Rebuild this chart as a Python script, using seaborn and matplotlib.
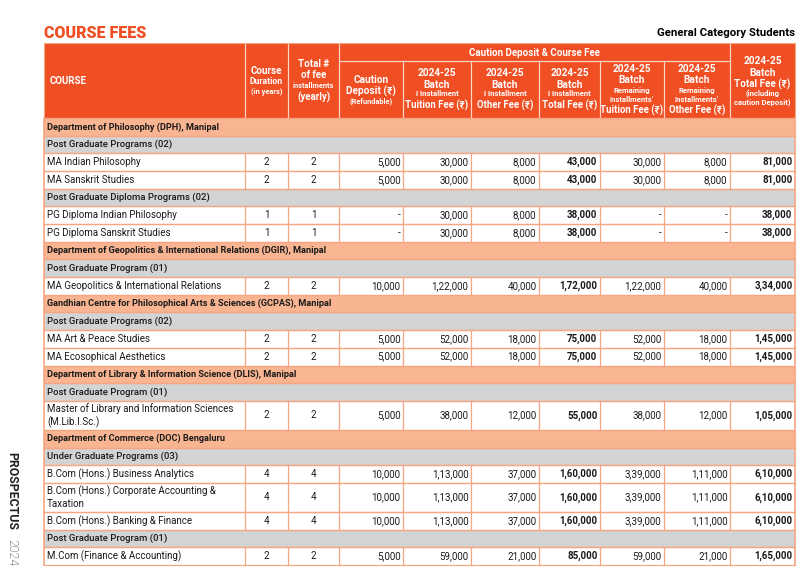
import matplotlib
matplotlib.use("Agg")
import matplotlib.pyplot as plt
from matplotlib.patches import Rectangle
import seaborn as sns

# table content
row_kind = ["dept", "group", "course", "course", "group", "course", "course",
            "dept", "group", "course",
            "dept", "group", "course", "course",
            "dept", "group", "course",
            "dept", "group", "course", "course", "course", "group", "course"]
row_label = [
    "Department of Philosophy (DPH), Manipal",
    "Post Graduate Programs (02)",
    "MA Indian Philosophy",
    "MA Sanskrit Studies",
    "Post Graduate Diploma Programs (02)",
    "PG Diploma Indian Philosophy",
    "PG Diploma Sanskrit Studies",
    "Department of Geopolitics & International Relations (DGIR), Manipal",
    "Post Graduate Program (01)",
    "MA Geopolitics & International Relations",
    "Gandhian Centre for Philosophical Arts & Sciences (GCPAS), Manipal",
    "Post Graduate Programs (02)",
    "MA Art & Peace Studies",
    "MA Ecosophical Aesthetics",
    "Department of Library & Information Science (DLIS), Manipal",
    "Post Graduate Program (01)",
    "Master of Library and Information Sciences\n(M.Lib.I.Sc.)",
    "Department of Commerce (DOC) Bengaluru",
    "Under Graduate Programs (03)",
    "B.Com (Hons.) Business Analytics",
    "B.Com (Hons.) Corporate Accounting &\nTaxation",
    "B.Com (Hons.) Banking & Finance",
    "Post Graduate Program (01)",
    "M.Com (Finance & Accounting)",
]

# one entry per course row, in order
duration = [2, 2, 1, 1, 2, 2, 2, 2, 4, 4, 4, 2]
installments = [2, 2, 1, 1, 2, 2, 2, 2, 4, 4, 4, 2]
caution = [5000, 5000, None, None, 10000, 5000, 5000, 5000, 10000, 10000, 10000, 5000]
tuition_1 = [30000, 30000, 30000, 30000, 122000, 52000, 52000, 38000, 113000, 113000, 113000, 59000]
other_1 = [8000, 8000, 8000, 8000, 40000, 18000, 18000, 12000, 37000, 37000, 37000, 21000]
total_1 = [43000, 43000, 38000, 38000, 172000, 75000, 75000, 55000, 160000, 160000, 160000, 85000]
tuition_rest = [30000, 30000, None, None, 122000, 52000, 52000, 38000, 339000, 339000, 339000, 59000]
other_rest = [8000, 8000, None, None, 40000, 18000, 18000, 12000, 111000, 111000, 111000, 21000]
total_fee = [81000, 81000, 38000, 38000, 334000, 145000, 145000, 105000, 610000, 610000, 610000, 165000]

ORANGE = "#F04E23"
SALMON = "#F9B592"
GREY = "#D1D3D4"
GRID = "#F6A683"


def inr(v):
    # Indian digit grouping: 1,22,000
    if v is None:
        return "-"
    s = str(v)
    if len(s) <= 3:
        return s
    head, tail = s[:-3], s[-3:]
    parts = []
    while len(head) > 2:
        parts.insert(0, head[-2:])
        head = head[:-2]
    if head:
        parts.insert(0, head)
    return ",".join(parts) + "," + tail


sns.set_theme(style="white")
plt.rcParams["font.family"] = ["Roboto", "DejaVu Sans"]

fig = plt.figure(figsize=(8.04, 5.82), dpi=100)
ax = fig.add_axes([0, 0, 1, 1])
ax.set_xlim(0, 804)
ax.set_ylim(582, 0)
ax.axis("off")

edges = [44, 245, 288, 339.5, 403, 471, 539, 600, 664, 730, 795]
left, right = edges[0], edges[-1]
head_top, head_mid, head_bot = 43, 61, 118

# titles
ax.text(left, 33, "COURSE FEES", color=ORANGE, fontsize=11.5, fontweight="heavy",
        ha="left", va="center")
ax.text(right, 33, "General Category Students", color="black", fontsize=8.2,
        fontweight="bold", ha="right", va="center")
ax.text(12, 452, "PROSPECTUS", rotation=-90, fontsize=8.8, fontweight="bold",
        ha="center", va="top", color="#222222")
ax.text(12, 539, "2024", rotation=-90, fontsize=8.8, fontweight="light",
        ha="center", va="top", color="#222222")

# header block
ax.add_patch(Rectangle((left, head_top), right - left, head_bot - head_top,
                       facecolor=ORANGE, edgecolor="none"))
hl = "#FAD3C2"
for i, x in enumerate(edges[1:-1], start=1):
    y0 = head_top if i in (1, 2, 3, 9) else head_mid
    ax.plot([x, x], [y0, head_bot], color=hl, lw=0.9)
ax.plot([edges[3], edges[9]], [head_mid, head_mid], color=hl, lw=0.9)

ax.text(50, 81, "COURSE", color="white", fontsize=7, fontweight="bold", ha="left", va="center")
ax.text((edges[3] + edges[9]) / 2, 52.5, "Caution Deposit & Course Fee", color="white",
        fontsize=7, fontweight="bold", ha="center", va="center")

header_cells = [
    (1, [("Course", 7, 71), ("Duration", 6.2, 81.5), ("(in years)", 5.3, 91.5)]),
    (2, [("Total #", 7, 64), ("of fee", 7, 75.5), ("installments", 5.3, 86), ("(yearly)", 7, 97.5)]),
    (3, [("Caution", 7.3, 80), ("Deposit (₹)", 7.3, 91), ("(Refundable)", 5.3, 101.5)]),
    (4, [("2024-25", 7.3, 73), ("Batch", 7.3, 84.5), ("I Installment", 5.5, 94), ("Tuition Fee (₹)", 6.9, 105)]),
    (5, [("2024-25", 7.3, 73), ("Batch", 7.3, 84.5), ("I Installment", 5.5, 94), ("Other Fee (₹)", 6.9, 105)]),
    (6, [("2024-25", 7.3, 73), ("Batch", 7.3, 84.5), ("I Installment", 5.5, 94), ("Total Fee (₹)", 6.9, 105)]),
    (7, [("2024-25", 7.3, 68.5), ("Batch", 7.3, 80), ("Remaining", 5.5, 90), ("Installments'", 5.5, 99.5), ("Tuition Fee (₹)", 6.9, 110)]),
    (8, [("2024-25", 7.3, 68.5), ("Batch", 7.3, 80), ("Remaining", 5.5, 90), ("Installments'", 5.5, 99.5), ("Other Fee (₹)", 6.9, 110)]),
    (9, [("2024-25", 7.3, 61), ("Batch", 7.3, 72.5), ("Total Fee (₹)", 7.1, 84), ("(including", 5.5, 93.5), ("caution Deposit)", 5.5, 102)]),
]
for col, lines in header_cells:
    cx = (edges[col] + edges[col + 1]) / 2
    for txt, size, y in lines:
        ax.text(cx, y, txt, color="white", fontsize=size, fontweight="bold",
                ha="center", va="center")

# body
single, double = 17.68, 29.0
y = head_bot
ci = 0
for kind, label in zip(row_kind, row_label):
    h = double if "\n" in label else single
    if kind in ("dept", "group"):
        fc = SALMON if kind == "dept" else GREY
        ax.add_patch(Rectangle((left, y), right - left, h, facecolor=fc, edgecolor="none"))
        ax.text(47, y + h / 2, label, fontsize=6.6 if kind == "dept" else 6.8,
                fontweight="bold" if kind == "dept" else "medium",
                color="#1a1a1a", ha="left", va="center")
    else:
        ax.add_patch(Rectangle((left, y), right - left, h, facecolor="white", edgecolor="none"))
        for x in edges[1:-1]:
            ax.plot([x, x], [y, y + h], color=GRID, lw=0.9)
        ax.text(47, y + h / 2, label, fontsize=7, color="#1a1a1a", ha="left",
                va="center", linespacing=1.3)
        cy = y + h / 2
        ax.text((edges[1] + edges[2]) / 2, cy, str(duration[ci]), fontsize=7,
                ha="center", va="center", color="#1a1a1a")
        ax.text((edges[2] + edges[3]) / 2, cy, str(installments[ci]), fontsize=7,
                ha="center", va="center", color="#1a1a1a")
        vals = [caution, tuition_1, other_1, total_1, tuition_rest, other_rest, total_fee]
        for k, series in enumerate(vals):
            bold = series is total_1 or series is total_fee
            ax.text(edges[4 + k] - 2.5, cy, inr(series[ci]), fontsize=7,
                    fontweight="bold" if bold else "normal",
                    ha="right", va="center", color="#1a1a1a")
        ci += 1
    ax.plot([left, right], [y, y], color=GRID, lw=0.9)
    y += h
    ax.plot([left, right], [y, y], color=GRID, lw=0.9)

# outer border of body
ax.plot([left, left], [head_bot, y], color=GRID, lw=1.2)
ax.plot([right, right], [head_bot, y], color=GRID, lw=1.2)
ax.plot([left, right, right, left, left], [head_top, head_top, head_bot, head_bot, head_top],
        color=GRID, lw=0.8)

fig.savefig("out.png", dpi=100)
